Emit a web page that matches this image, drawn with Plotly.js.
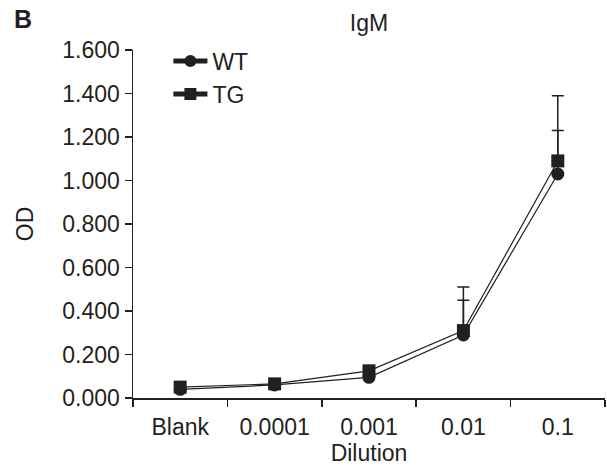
<!DOCTYPE html>
<html>
<head>
<meta charset="utf-8">
<script src="https://cdn.plot.ly/plotly-3.0.1.min.js"></script>
<style>html,body{margin:0;padding:0;background:#fff;}#chart{width:607px;height:469px;}</style>
</head>
<body>
<div id="chart"></div>
<script>
const categories = ["Blank", "0.0001", "0.001", "0.01", "0.1"];
const wtValues = [0.040, 0.060, 0.095, 0.290, 1.030];
const wtErrors = [0, 0, 0, 0.160, 0.200];
const tgValues = [0.050, 0.065, 0.125, 0.310, 1.090];
const tgErrors = [0, 0, 0, 0.200, 0.300];
const yTicks = [0, 0.2, 0.4, 0.6, 0.8, 1.0, 1.2, 1.4, 1.6];

const font = "Liberation Sans, Arial, sans-serif";
const ink = "#231f20";
const fs = 23;

function series(name, vals, errs, symbol) {
  return {
    type: "scatter", mode: "lines+markers", name: name,
    x: categories, y: vals,
    line: {color: ink, width: 1.2},
    marker: {symbol: symbol, size: 13, color: ink},
    error_y: {type: "data", array: errs, arrayminus: errs.map(() => 0), symmetric: false,
              color: ink, thickness: 1.5, width: 6}
  };
}

const data = [series("WT", wtValues, wtErrors, "circle"), series("TG", tgValues, tgErrors, "square")];

const layout = {
  width: 607, height: 469,
  margin: {l: 133, r: 2, t: 50, b: 71},
  paper_bgcolor: "#fff", plot_bgcolor: "#fff",
  font: {family: font, size: fs, color: ink},
  showlegend: true,
  legend: {x: 0.075, y: 1.03, xanchor: "left", yanchor: "top", bgcolor: "rgba(0,0,0,0)",
           font: {size: fs}, tracegroupgap: 0, itemsizing: "constant", itemwidth: 34},
  title: {text: "IgM", xref: "paper", x: 0.5, xanchor: "center", y: 0.951, yanchor: "middle", font: {size: fs, color: ink}},
  xaxis: {
    type: "category", range: [-0.5, 4.5], tickson: "boundaries",
    ticks: "outside", ticklen: 7, tickwidth: 1.5, tickcolor: ink,
    showline: true, linewidth: 1.5, linecolor: ink, showgrid: false, zeroline: false,
    tickfont: {size: fs}, ticklabelstandoff: 8,
    title: {text: "Dilution", font: {size: fs}, standoff: 5}
  },
  yaxis: {
    range: [0, 1.6], tickvals: yTicks, tickformat: ".3f",
    ticks: "outside", ticklen: 7, tickwidth: 1.5, tickcolor: ink,
    showline: true, linewidth: 1.5, linecolor: ink, showgrid: false, zeroline: false,
    tickfont: {size: fs}, ticklabelstandoff: 0,
    title: {text: "OD", font: {size: fs}, standoff: 22}
  },
  annotations: [{text: "<b>B</b>", xref: "paper", yref: "paper", x: -0.256, y: 1.09,
                 xanchor: "left", yanchor: "middle", showarrow: false, font: {size: 25, color: ink}}]
};

Plotly.newPlot("chart", data, layout, {displayModeBar: false, staticPlot: true});
</script>
</body>
</html>
